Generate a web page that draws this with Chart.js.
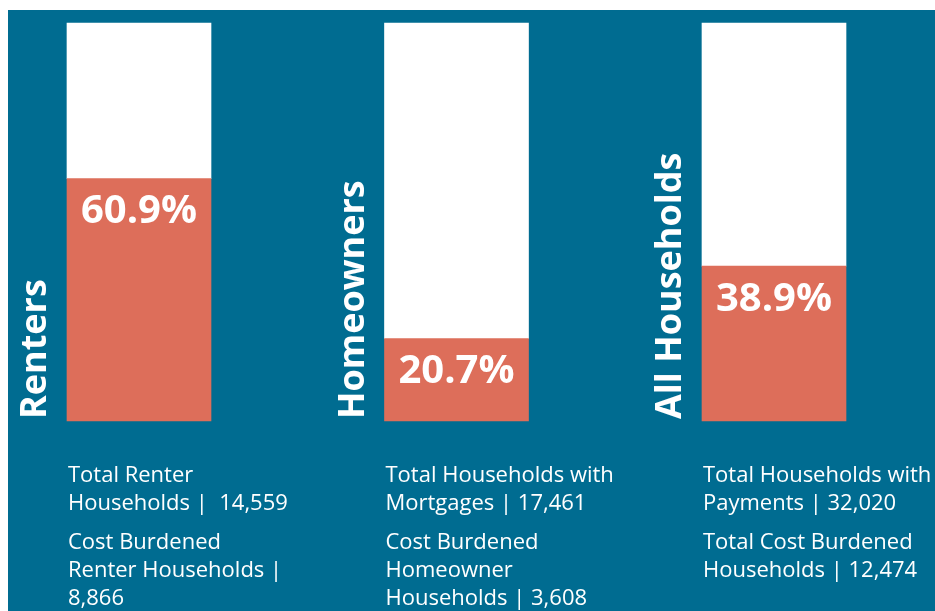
<!DOCTYPE html>
<html>
<head>
<meta charset="utf-8">
<script src="https://cdn.jsdelivr.net/npm/chart.js@4/dist/chart.umd.min.js"></script>
<style>
  html, body { margin: 0; padding: 0; background: #ffffff; }
  #wrap { width: 935px; height: 611px; }
</style>
</head>
<body>
<div id="wrap"><canvas id="c" width="935" height="611"></canvas></div>
<script>
// ---- data ----
const categories = ["Renters", "Homeowners", "All Households"];
const burdenedPct = [60.9, 20.7, 38.9];
const totalHouseholds = [14559, 17461, 32020];
const burdenedHouseholds = [8866, 3608, 12474];
const totalLabelLines = [
  ["Total Renter", "Households |  {t}"],
  ["Total Households with", "Mortgages | {t}"],
  ["Total Households with", "Payments | {t}"]
];
const burdenLabelLines = [
  ["Cost Burdened", "Renter Households |", "{b}"],
  ["Cost Burdened", "Homeowner", "Households | {b}"],
  ["Total Cost Burdened", "Households | {b}"]
];

const BLUE = "#006C91";
const ORANGE = "#DD6E5A";
const fmt = n => n.toLocaleString("en-US");

const bgPlugin = {
  id: "bg",
  beforeDraw(chart) {
    const ctx = chart.ctx;
    ctx.save();
    ctx.fillStyle = "#ffffff";
    ctx.fillRect(0, 0, chart.width, chart.height);
    ctx.fillStyle = BLUE;
    ctx.fillRect(8, 10, chart.width - 8, chart.height - 10);
    ctx.restore();
  }
};

const textPlugin = {
  id: "texts",
  afterDatasetsDraw(chart) {
    const ctx = chart.ctx;
    const meta = chart.getDatasetMeta(0);
    const bottom = chart.chartArea.bottom;
    ctx.save();
    ctx.fillStyle = "#ffffff";
    meta.data.forEach((bar, i) => {
      const props = bar.getProps(["x", "y", "width"], true);
      const left = props.x - props.width / 2;
      // rotated category label
      ctx.save();
      ctx.translate(left - 21, bottom - 2);
      ctx.rotate(-Math.PI / 2);
      ctx.font = "bold 36px 'Open Sans', sans-serif";
      ctx.textAlign = "left";
      ctx.textBaseline = "alphabetic";
      ctx.fillText(categories[i], 0, 0);
      ctx.restore();
      // percentage label
      ctx.font = "bold 40px 'Open Sans', sans-serif";
      ctx.textAlign = "center";
      ctx.textBaseline = "middle";
      ctx.fillText(burdenedPct[i].toFixed(1) + "%", props.x, props.y + 33);
      // description text
      ctx.font = "22px 'Open Sans', sans-serif";
      ctx.textAlign = "left";
      ctx.textBaseline = "alphabetic";
      totalLabelLines[i].forEach((ln, k) => {
        ctx.fillText(ln.replace("{t}", fmt(totalHouseholds[i])), left + 1, 482 + k * 28);
      });
      burdenLabelLines[i].forEach((ln, k) => {
        ctx.fillText(ln.replace("{b}", fmt(burdenedHouseholds[i])), left + 1, 549 + k * 28);
      });
    });
    ctx.restore();
  }
};

new Chart(document.getElementById("c"), {
  type: "bar",
  data: {
    labels: categories,
    datasets: [
      {
        data: burdenedPct,
        backgroundColor: ORANGE,
        borderWidth: 0,
        barThickness: 144,
        clip: false
      },
      {
        data: burdenedPct.map(v => 100 - v),
        backgroundColor: "#ffffff",
        borderWidth: 0,
        barThickness: 144,
        clip: false
      }
    ]
  },
  options: {
    responsive: false,
    animation: false,
    devicePixelRatio: 1,
    layout: { padding: { left: 139, right: 161, top: 23, bottom: 190 } },
    plugins: { legend: { display: false }, tooltip: { enabled: false } },
    scales: {
      x: { display: false, stacked: true, offset: false },
      y: { display: false, stacked: true, min: 0, max: 100 }
    }
  },
  plugins: [bgPlugin, textPlugin]
});
</script>
</body>
</html>
